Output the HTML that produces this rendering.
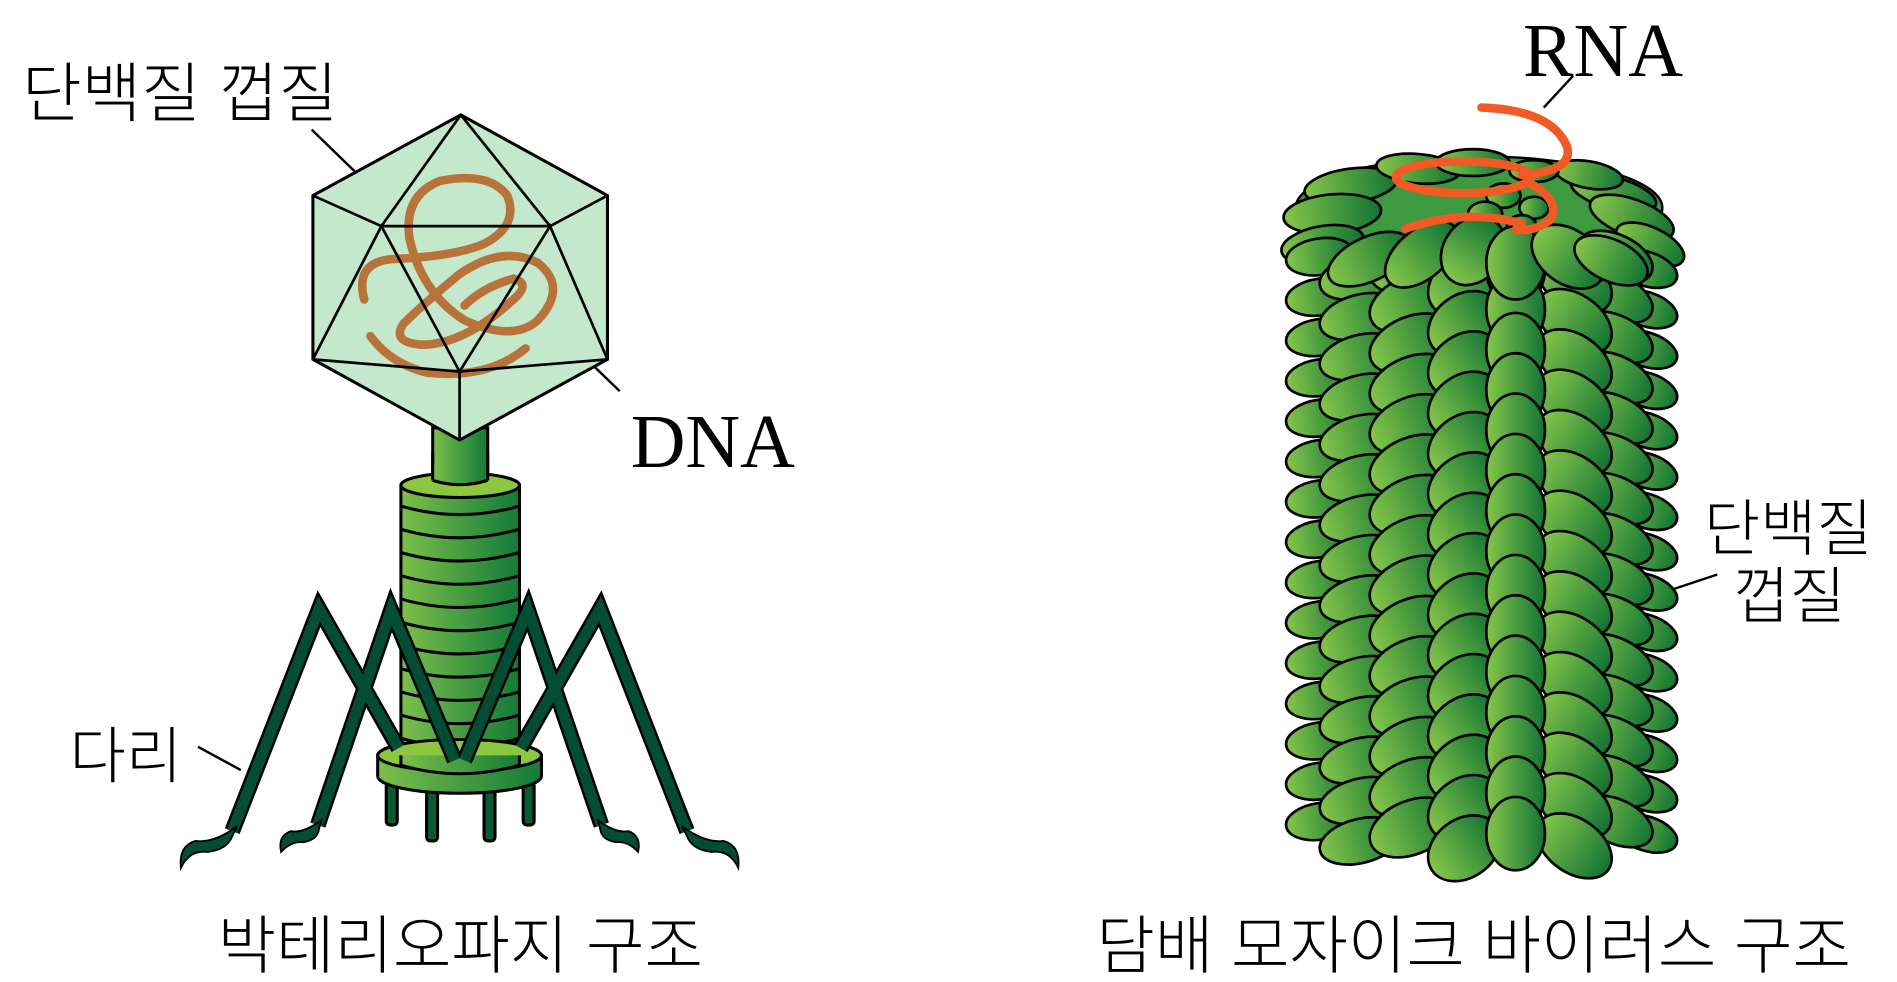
<!DOCTYPE html>
<html><head><meta charset="utf-8"><style>
html,body{margin:0;padding:0;background:#fff;width:1897px;height:982px;overflow:hidden}
text{font-family:"Liberation Sans","Noto Sans CJK KR",sans-serif;font-weight:300}
.ser{font-family:"Liberation Serif",serif;font-weight:400}
</style></head><body>
<svg id="s" width="1897" height="982" viewBox="0 0 1552 803.4" xmlns="http://www.w3.org/2000/svg">
<defs>
<linearGradient id="g" x1="0" x2="1" y1="0" y2="0"><stop offset="0" stop-color="#86c64a"/><stop offset="1" stop-color="#117334"/></linearGradient>
<linearGradient id="gt" x1="0" x2="1"><stop offset="0" stop-color="#7cc04a"/><stop offset="1" stop-color="#137a38"/></linearGradient>
</defs>
<text x="18" y="95" font-size="53">단백질 껍질</text>
<line x1="255" y1="106" x2="290" y2="140" stroke="#000" stroke-width="2"/>
<text class="ser" x="516" y="382" font-size="62">DNA</text>
<line x1="448" y1="263" x2="507" y2="320" stroke="#000" stroke-width="2"/>
<text x="57" y="636" font-size="50">다리</text>
<line x1="162" y1="611" x2="197" y2="630" stroke="#000" stroke-width="2"/>
<text x="178" y="792" font-size="52">박테리오파지 구조</text>

<rect x="354" y="350" width="45" height="45" fill="url(#gt)" stroke="#000" stroke-width="2.5"/>
<rect x="328" y="397" width="97" height="230" fill="url(#gt)" stroke="#000" stroke-width="2.5"/>
<g fill="none" stroke="#000" stroke-width="2.5">
<path d="M328,414 Q376,428 425,414"/><path d="M328,433 Q376,447 425,433"/><path d="M328,452 Q376,466 425,452"/><path d="M328,471 Q376,485 425,471"/><path d="M328,490 Q376,504 425,490"/><path d="M328,509 Q376,523 425,509"/><path d="M328,528 Q376,542 425,528"/><path d="M328,547 Q376,561 425,547"/><path d="M328,566 Q376,580 425,566"/><path d="M328,585 Q376,599 425,585"/><path d="M328,604 Q376,618 425,604"/>
</g>
<ellipse cx="376.5" cy="397" rx="48.5" ry="10" fill="#8dc63f" stroke="#000" stroke-width="2.5"/>
<path d="M354,393 Q376,400 399,393 L399,380 L354,380Z" fill="url(#gt)"/>
<path d="M354,393 Q376,400 399,393" fill="none" stroke="#000" stroke-width="2.5"/>
<line x1="354" y1="370" x2="354" y2="393" stroke="#000" stroke-width="2.5"/><line x1="399" y1="370" x2="399" y2="393" stroke="#000" stroke-width="2.5"/>
<g stroke="#000" stroke-width="2.5" fill="#0a5a32">
<rect x="316" y="640" width="9" height="35" rx="3"/><rect x="349" y="645" width="9" height="43" rx="3"/><rect x="396" y="645" width="9" height="43" rx="3"/><rect x="428" y="640" width="9" height="35" rx="3"/>
</g>
<path d="M309,618 L309,635 A67,14 0 0 0 443,635 L443,618Z" fill="url(#gt)" stroke="#000" stroke-width="2.5"/>
<ellipse cx="376" cy="618" rx="67" ry="13" fill="#8dc63f" stroke="#000" stroke-width="2.5"/>
<path d="M328,618 L328,626 Q376,640 425,626 L425,618" fill="url(#gt)" stroke="#000" stroke-width="2.5"/>
<g fill="none" stroke-linejoin="miter" stroke-linecap="butt">
<g stroke="#000" stroke-width="13">
<polyline points="190,680 261,498 326,612"/><polyline points="260,675 320,499 372,622"/>
<polyline points="562,680 491,498 426,612"/><polyline points="492,675 432,499 380,622"/>
</g>
<g stroke="#024d33" stroke-width="9">
<polyline points="190,680 261,498 326,612"/><polyline points="260,675 320,499 372,622"/>
<polyline points="562,680 491,498 426,612"/><polyline points="492,675 432,499 380,622"/>
</g>
</g>
<g fill="#024d33" stroke="#000" stroke-width="1.5">
<path d="M194,676 Q175,690 160,688 Q146,692 148,710 Q155,695 170,697 Q186,695 190,684Z"/>
<path d="M263,671 Q248,682 238,680 Q227,684 230,697 Q238,688 248,689 Q260,687 261,678Z"/>
<path d="M558,676 Q577,690 592,688 Q606,692 604,710 Q597,695 582,697 Q566,695 562,684Z"/>
<path d="M489,671 Q504,682 514,680 Q525,684 522,697 Q514,688 504,689 Q492,687 491,678Z"/>
</g>
<polygon points="377,94 497,160 497,294 376,360 256,294 256,160" fill="#c3e8cb" stroke="#000" stroke-width="2.5"/>
<g fill="none" stroke="#b8733a" stroke-width="7" stroke-linecap="round">
<path d="M298,245 Q290,215 320,212 Q370,210 395,200 Q425,185 415,160 Q400,140 360,148 Q330,160 335,195 Q345,240 380,262 Q420,280 440,262 Q465,235 440,215 Q410,200 375,225 Q345,250 330,265 Q320,280 345,282 Q380,282 420,245 Q435,232 420,228 Q395,235 380,250"/>
<path d="M303,275 Q320,298 350,305 Q400,310 430,285"/>
</g>
<g fill="none" stroke="#000" stroke-width="2.2">
<polyline points="377,94 312,185 256,160"/><polyline points="377,94 450,185 497,160"/>
<line x1="312" y1="185" x2="450" y2="185"/>
<polyline points="256,294 312,185 376,304 450,185 497,294"/>
<polyline points="256,294 376,304 497,294"/>
<line x1="376" y1="304" x2="376" y2="360"/>
</g>

<text class="ser" x="1246" y="62" font-size="62">RNA</text>
<line x1="1287" y1="62" x2="1263" y2="88" stroke="#000" stroke-width="2"/>
<text x="1394" y="450" font-size="50">단백질</text>
<text x="1418" y="505" font-size="50">껍질</text>
<line x1="1366" y1="483" x2="1405" y2="470" stroke="#000" stroke-width="2"/>
<text x="897" y="792" font-size="52">담배 모자이크 바이러스 구조</text>

<g id="tmv"></g>
<g fill="none" stroke="#f15a24" stroke-width="7" stroke-linecap="round">
<path d="M1212,88 Q1270,90 1282,120 Q1288,140 1245,143"/>
<ellipse cx="1197" cy="145" rx="55" ry="13"/>
<path d="M1252,150 Q1278,165 1268,180 Q1255,190 1240,188"/>
<path d="M1150,187 Q1200,170 1245,183"/>
</g>
</svg>
<script>
(function(){
var g=document.getElementById('tmv'),out='';
function leaf(cx,cy,rx,ry,r){out+='<ellipse cx="'+cx+'" cy="'+cy+'" rx="'+rx+'" ry="'+ry+'" transform="rotate('+r+' '+cx+' '+cy+')" fill="url(#g)" stroke="#000" stroke-width="2.2"/>';}
out+='<ellipse cx="1210" cy="170" rx="150" ry="42" fill="#3d9a3e" stroke="#000" stroke-width="2"/>';
var tops=[[1105,152,38,14,-8],[1090,175,40,16,-5],[1082,200,34,15,-10],[1160,138,34,12,5],[1205,133,30,11,0],[1320,158,36,13,15],[1335,178,36,15,20],[1350,200,30,14,25],[1300,143,28,11,10],[1255,140,20,9,0],[1230,160,14,10,0],[1255,170,12,9,0],[1215,175,14,10,0],[1245,185,12,9,0]];
tops.forEach(function(t){leaf(t[0],t[1],t[2],t[3],t[4]);});
var cols=[
{x:1080,rx:28,ry:15,r:-8,o:0},{x:1347,rx:26,ry:14,r:18,o:10},
{x:1113,rx:34,ry:18,r:-14,o:16},{x:1322,rx:32,ry:18,r:25,o:0},
{x:1155,rx:36,ry:22,r:-22,o:5},{x:1288,rx:34,ry:22,r:35,o:20},
{x:1198,rx:32,ry:24,r:-35,o:22},
{x:1240,rx:24,ry:30,r:0,o:10}];
cols.forEach(function(c){for(var y=210+c.o;y<=700;y+=33){leaf(c.x,y,c.rx,c.ry,c.r);}});
[[1120,212,36,18,-25],[1163,208,35,20,-40],[1205,205,30,24,-55],[1240,215,24,30,0],[1283,210,33,22,35],[1318,213,32,17,25]].forEach(function(t){leaf(t[0],t[1],t[2],t[3],t[4]);});
g.innerHTML=out;
})();
</script>
</body></html>
